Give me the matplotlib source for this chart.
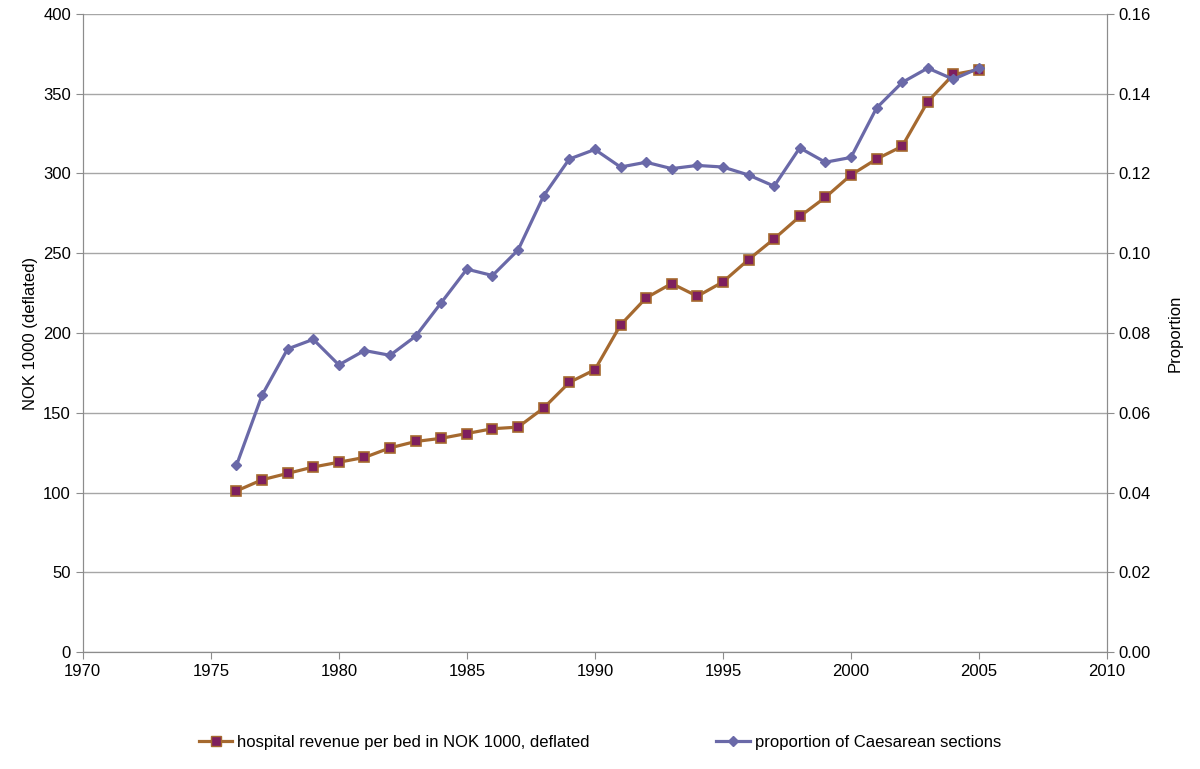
import matplotlib
matplotlib.use("Agg")
import matplotlib.pyplot as plt
from matplotlib.lines import Line2D

years = list(range(1976, 2006))
revenue = [101, 108, 112, 116, 119, 122, 128, 132, 134, 137,
           140, 141, 153, 169, 177, 205, 222, 231, 223, 232,
           246, 259, 273, 285, 299, 309, 317, 345, 362, 365]
caesarean = [0.0468, 0.0644, 0.0760, 0.0784, 0.0720, 0.0756, 0.0744, 0.0792, 0.0876, 0.0960,
             0.0944, 0.1008, 0.1144, 0.1236, 0.1260, 0.1216, 0.1228, 0.1212, 0.1220, 0.1216,
             0.1196, 0.1168, 0.1264, 0.1228, 0.1240, 0.1364, 0.1428, 0.1464, 0.1436, 0.1464]

plt.rcParams['font.family'] = ['Liberation Sans', 'DejaVu Sans']

brown = '#A5692F'
purple_face = '#7E1F5E'
blue = '#6A69A8'
grid_c = '#A6A6A6'

fig = plt.figure(figsize=(12, 7.69), dpi=100)
ax = fig.add_axes([0.069, 0.152, 0.8535, 0.83])
ax2 = ax.twinx()

ax.plot(years, revenue, color=brown, lw=2.3, marker='s', ms=7,
        markerfacecolor=purple_face, markeredgecolor=brown, markeredgewidth=1.2, zorder=3)
ax2.plot(years, caesarean, color=blue, lw=2.3, marker='D', ms=5.5,
         markerfacecolor=blue, markeredgecolor=blue, zorder=3)

ax.set_xlim(1970, 2010)
ax.set_ylim(0, 400)
ax2.set_ylim(0, 0.16)
ax.set_xticks(range(1970, 2011, 5))
ax.set_yticks(range(0, 401, 50))
ax2.set_yticks([i * 0.02 for i in range(9)])
ax2.set_yticklabels([f"{i * 0.02:.2f}" for i in range(9)])
ax.yaxis.grid(True, color=grid_c, lw=1)
ax.set_axisbelow(True)

for a in (ax, ax2):
    a.spines['top'].set_visible(False)
    for s in ('left', 'right', 'bottom'):
        a.spines[s].set_color('#8C8C8C')
    a.tick_params(colors='#8C8C8C', labelcolor='black', labelsize=12, length=5, direction='out')

ax.set_ylabel("NOK 1000 (deflated)", fontsize=12)
ax2.set_ylabel("Proportion", fontsize=12, labelpad=12)

handles = [
    Line2D([], [], color=brown, lw=2.3, marker='s', ms=7,
           markerfacecolor=purple_face, markeredgecolor=brown),
    Line2D([], [], color=blue, lw=2.3, marker='D', ms=5.5,
           markerfacecolor=blue, markeredgecolor=blue),
]
labels = ["hospital revenue per bed in NOK 1000, deflated", "proportion of Caesarean sections"]
fig.legend(handles, labels, loc='lower center', bbox_to_anchor=(0.5, 0.005), ncol=2,
           frameon=False, fontsize=12, columnspacing=7.6, handlelength=2, handletextpad=0.3)

fig.savefig("out.png", dpi=100)
